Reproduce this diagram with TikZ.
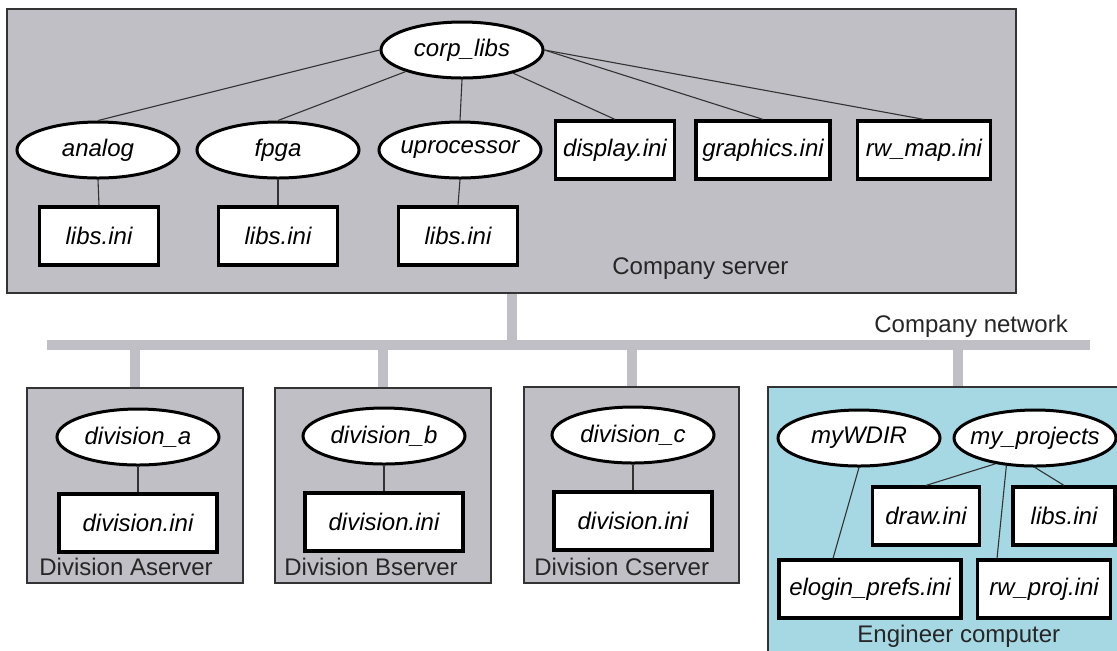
\documentclass[tikz,border=0pt]{standalone}
\usepackage{fontspec}
\setmainfont{Liberation Sans}
\usepackage{tikz}
\usetikzlibrary{shapes.geometric}
\definecolor{srvgray}{RGB}{192,191,197}
\definecolor{engblue}{RGB}{166,216,228}
\definecolor{netgray}{RGB}{192,191,197}
\definecolor{wire}{RGB}{50,50,50}
\newcommand{\nodefont}{\fontsize{12}{14}\selectfont}
\tikzset{
  host/.style={draw=black!80, line width=0.7pt, fill=srvgray, inner sep=0pt},
  dir/.style={ellipse, draw, line width=1.5pt, fill=white, minimum width=81pt, minimum height=28pt,
    inner xsep=-12pt, inner ysep=0pt, font=\nodefont\itshape},
  ini/.style={draw, line width=1.6pt, fill=white, minimum height=29pt, inner sep=0pt, font=\nodefont\itshape},
  link/.style={wire, line width=0.55pt},
  net/.style={netgray, line width=5pt},
  lbl/.style={anchor=base west, text=black!85, inner sep=0pt, font=\nodefont}
}

\begin{document}
\begin{tikzpicture}[x=0.5pt,y=-0.5pt]
\clip (0,0) rectangle (1117,650);
\fill[white] (0,0) rectangle (1117,650);

\node[host, minimum width=504.5pt, minimum height=142pt] (corpsrv) at (511.5,151) {};
\node[host, minimum width=108pt, minimum height=97.5pt] (srva) at (135,485.5) {};
\node[host, minimum width=108pt, minimum height=97.5pt] (srvb) at (383,485.5) {};
\node[host, minimum width=107.5pt, minimum height=98pt] (srvc) at (631.5,485) {};
\node[host, fill=engblue, minimum width=190pt, minimum height=150pt] (eng) at (958,537) {};

\coordinate (busw) at (47,345);
\coordinate (buse) at (1090,345);
\draw[net] (busw) -- (buse);
\draw[net] (corpsrv.south) -- (corpsrv.south |- busw);
\foreach \s in {srva,srvb,srvc,eng}
  \draw[net] (\s.north) -- (\s.north |- busw);

\node[dir] (corp) at (462,50) {corp\_libs};
\node[dir] (analog) at (98,150) {analog};
\node[dir] (fpga) at (278,150) {fpga};
\node[dir] (uproc) at (460,150) {uprocessor};
\node[ini, minimum width=59.5pt] (libsa) at (99,236) {libs.ini};
\node[ini, minimum width=59.5pt] (libsf) at (278,236) {libs.ini};
\node[ini, minimum width=59.5pt] (libsu) at (458,236) {libs.ini};
\node[ini, minimum width=59.5pt] (display) at (615,150) {display.ini};
\node[ini, minimum width=67pt] (graphics) at (763,150) {graphics.ini};
\node[ini, minimum width=66.5pt] (rwmap) at (924,150) {rw\_map.ini};

\node[dir] (diva) at (138,437) {division\_a};
\node[ini, minimum width=79pt] (dinia) at (138,523) {division.ini};
\node[dir] (divb) at (384,436) {division\_b};
\node[ini, minimum width=79pt] (dinib) at (384,522) {division.ini};
\node[dir] (divc) at (633,435) {division\_c};
\node[ini, minimum width=79pt] (dinic) at (633,521) {division.ini};

\node[dir] (wdir) at (859,438) {myWDIR};
\node[dir] (proj) at (1035,438) {my\_projects};
\node[ini, minimum width=53.5pt] (drawini) at (926,516) {draw.ini};
\node[ini, minimum width=51pt] (libse) at (1064,516) {libs.ini};
\node[ini, minimum width=91pt] (elogin) at (870,589) {elogin\_prefs.ini};
\node[ini, minimum width=66.5pt] (rwproj) at (1044,589) {rw\_proj.ini};

\draw[link] (corp.west) -- (analog.north);
\draw[link] (corp) -- (fpga.north);
\draw[link] (corp.south) -- (uproc.north);
\draw[link] (corp) -- (display.north);
\draw[link] (corp.east) -- (graphics.north);
\draw[link] (corp.east) -- (rwmap.north);
\foreach \a/\b in {analog/libsa, fpga/libsf, uproc/libsu, diva/dinia, divb/dinib, divc/dinic}
  \draw[link] (\a.south) -- (\b.north);
\draw[link] (wdir.south) -- ([xshift=-18.5pt]elogin.north);
\draw[link] (proj.-147) -- (drawini.north);
\draw[link] (proj.south) -- (libse.north);
\draw[link] (proj.-136) -- ([xshift=-23.5pt]rwproj.north);

\draw (612,274) node[lbl] (srvlbl) {Company server};
\draw (874,332) node[lbl] (netlbl) {Company network};
\draw (39,575) node[lbl] (albl) {Division Aserver};
\draw (284,575) node[lbl] (blbl) {Division Bserver};
\draw (534,575) node[lbl] (clbl) {Division Cserver};
\draw (857,642) node[lbl] (englbl) {Engineer computer};

\end{tikzpicture}
\end{document}
